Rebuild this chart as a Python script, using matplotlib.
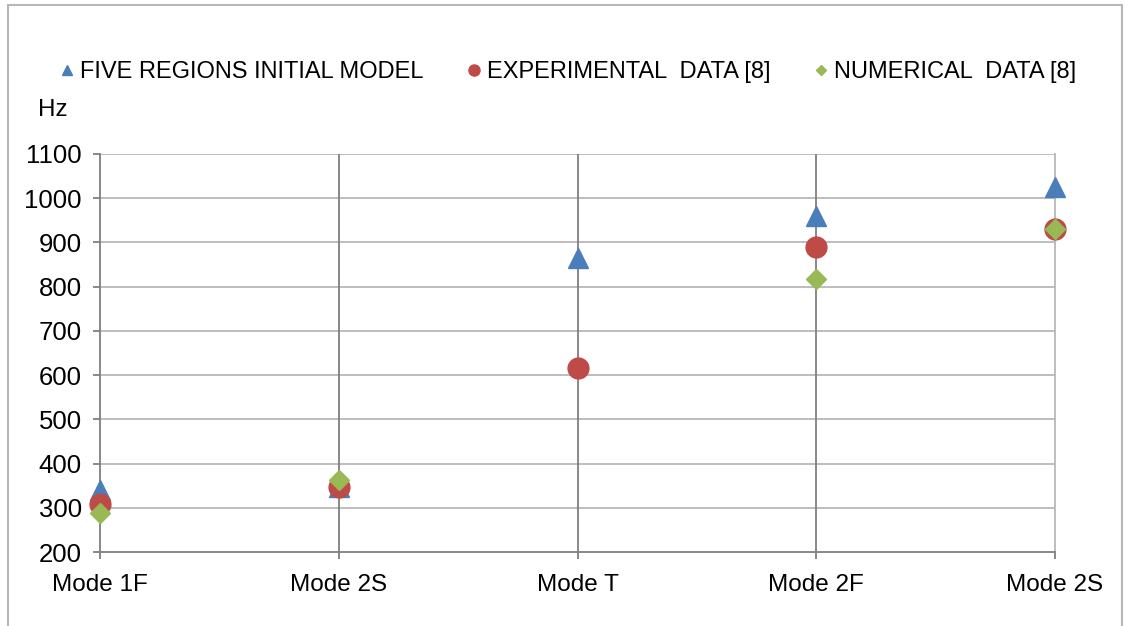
import matplotlib.pyplot as plt
import matplotlib
from matplotlib.lines import Line2D
from matplotlib.patches import Rectangle

matplotlib.rcParams['font.family'] = ['Liberation Sans', 'DejaVu Sans']

modes = ['Mode 1F', 'Mode 2S', 'Mode T', 'Mode 2F', 'Mode 2S']
five_regions = [340, 348, 865, 960, 1025]
experimental = [308, 348, 615, 890, 930]
numerical = [288, 362, None, 818, 930]

y_ticks = [200, 300, 400, 500, 600, 700, 800, 900, 1000, 1100]

fig = plt.figure(figsize=(11.25, 6.26), dpi=100)
ax = fig.add_axes([0.0889, 0.1182, 0.8489, 0.6358])

# 水平网格线
for v in y_ticks[1:]:
    ax.axhline(v, color='#b8b8b8', linewidth=1.3, zorder=0)
# 垂直线
for i in range(1, len(modes) - 1):
    ax.axvline(i, color='#7f7f7f', linewidth=1.3, zorder=0)

x = list(range(len(modes)))
ax.plot(x, five_regions, linestyle='none', marker='^', markersize=15,
        color='#4a7ebb', zorder=3, clip_on=False)
ax.plot(x, experimental, linestyle='none', marker='o', markersize=15,
        color='#be4b48', zorder=4, clip_on=False)
xn = [i for i, v in enumerate(numerical) if v is not None]
yn = [v for v in numerical if v is not None]
ax.plot(xn, yn, linestyle='none', marker='D', markersize=10.5,
        color='#98b954', zorder=5, clip_on=False)

ax.set_xlim(0, len(modes) - 1)
ax.set_ylim(200, 1100)
ax.set_yticks(y_ticks)
ax.set_xticks(x)
ax.set_xticklabels(modes)
ax.tick_params(axis='x', labelsize=17.5, color='#7f7f7f', length=5, width=1.3, pad=11)
ax.tick_params(axis='y', labelsize=18.5, color='#7f7f7f', length=5, width=1.3, pad=8)
ax.spines['top'].set_visible(False)
ax.spines['left'].set_color('#7f7f7f')
ax.spines['bottom'].set_color('#7f7f7f')
ax.spines['right'].set_color('#b8b8b8')
for s in ['left', 'bottom', 'right']:
    ax.spines[s].set_linewidth(1.3)

fig.text(0.034, 0.825, 'Hz', fontsize=17.5, va='center', ha='left')

handles = [
    Line2D([], [], linestyle='none', marker='^', markersize=7, color='#4a7ebb'),
    Line2D([], [], linestyle='none', marker='o', markersize=8, color='#be4b48'),
    Line2D([], [], linestyle='none', marker='D', markersize=5.5, color='#98b954'),
]
labels = ['FIVE REGIONS INITIAL MODEL', 'EXPERIMENTAL  DATA [8]', 'NUMERICAL  DATA [8]']
fig.legend(handles, labels, loc='center left', bbox_to_anchor=(0.054, 0.885), ncol=3,
           frameon=False, fontsize=17, handlelength=0.5, handletextpad=0.3,
           columnspacing=1.9, borderpad=0, borderaxespad=0)

# 图表外框
fig.patches.append(Rectangle((0.007, -0.02), 0.99, 1.012, transform=fig.transFigure,
                             fill=False, edgecolor='#b8b8b8', linewidth=1.5))

plt.savefig('out.png', dpi=100)
plt.close()
